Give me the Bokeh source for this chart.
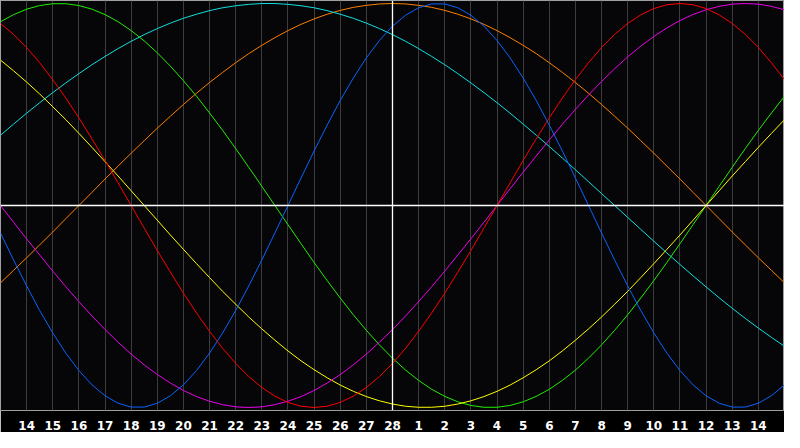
from bokeh.plotting import figure
from bokeh.models import Range1d, FixedTicker, Span
from bokeh.embed import file_html
from bokeh.resources import INLINE

# Day axis: position 0 = day 13 of previous month ... position 30 = day 15
day_labels = ["13", "14", "15", "16", "17", "18", "19", "20", "21", "22", "23",
              "24", "25", "26", "27", "28", "1", "2", "3", "4", "5", "6", "7",
              "8", "9", "10", "11", "12", "13", "14", "15"]
# sample positions, every half day
day_pos = [k / 2 for k in range(61)]

# Cycle values (-1 .. 1) at half-day steps
physical = [-0.136, -0.270, -0.398, -0.520, -0.631, -0.731, -0.817, -0.888, -0.942,
            -0.979, -0.998, -0.998, -0.979, -0.942, -0.888, -0.817, -0.731, -0.631,
            -0.520, -0.398, -0.270, -0.136, 0.0, 0.136, 0.270, 0.398, 0.520, 0.631,
            0.731, 0.817, 0.888, 0.942, 0.979, 0.998, 0.998, 0.979, 0.942, 0.888,
            0.817, 0.731, 0.631, 0.520, 0.398, 0.270, 0.136, 0.0, -0.136, -0.270,
            -0.398, -0.520, -0.631, -0.731, -0.817, -0.888, -0.942, -0.979, -0.998,
            -0.998, -0.979, -0.942, -0.888]
emotional = [0.901, 0.847, 0.782, 0.707, 0.623, 0.532, 0.434, 0.330, 0.223, 0.112,
             0.0, -0.112, -0.223, -0.330, -0.434, -0.532, -0.623, -0.707, -0.782,
             -0.847, -0.901, -0.944, -0.975, -0.994, -1.0, -0.994, -0.975, -0.944,
             -0.901, -0.847, -0.782, -0.707, -0.623, -0.532, -0.434, -0.330, -0.223,
             -0.112, 0.0, 0.112, 0.223, 0.330, 0.434, 0.532, 0.623, 0.707, 0.782,
             0.847, 0.901, 0.944, 0.975, 0.994, 1.0, 0.994, 0.975, 0.944, 0.901,
             0.847, 0.782, 0.707, 0.623]
intellectual = [0.910, 0.945, 0.972, 0.990, 0.999, 0.999, 0.990, 0.972, 0.945, 0.910,
                0.866, 0.815, 0.756, 0.690, 0.618, 0.541, 0.458, 0.372, 0.282, 0.189,
                0.095, 0.0, -0.095, -0.189, -0.282, -0.372, -0.458, -0.541, -0.618,
                -0.690, -0.756, -0.815, -0.866, -0.910, -0.945, -0.972, -0.990,
                -0.999, -0.999, -0.990, -0.972, -0.945, -0.910, -0.866, -0.815,
                -0.756, -0.690, -0.618, -0.541, -0.458, -0.372, -0.282, -0.189,
                -0.095, 0.0, 0.095, 0.189, 0.282, 0.372, 0.458, 0.541]
intuitive = [0.0, -0.083, -0.165, -0.245, -0.325, -0.402, -0.476, -0.547, -0.614,
             -0.677, -0.736, -0.789, -0.837, -0.879, -0.916, -0.946, -0.969, -0.986,
             -0.997, -1.0, -0.997, -0.986, -0.969, -0.946, -0.916, -0.879, -0.837,
             -0.789, -0.736, -0.677, -0.614, -0.547, -0.476, -0.402, -0.325, -0.245,
             -0.165, -0.083, 0.0, 0.083, 0.165, 0.245, 0.325, 0.402, 0.476, 0.547,
             0.614, 0.677, 0.736, 0.789, 0.837, 0.879, 0.916, 0.946, 0.969, 0.986,
             0.997, 1.0, 0.997, 0.986, 0.969]
aesthetic = [0.720, 0.667, 0.611, 0.552, 0.489, 0.425, 0.357, 0.288, 0.217, 0.146,
             0.073, 0.0, -0.073, -0.146, -0.217, -0.288, -0.357, -0.425, -0.489,
             -0.552, -0.611, -0.667, -0.720, -0.769, -0.813, -0.853, -0.889, -0.920,
             -0.946, -0.967, -0.983, -0.994, -0.999, -0.999, -0.994, -0.983, -0.967,
             -0.946, -0.920, -0.889, -0.853, -0.813, -0.769, -0.720, -0.667, -0.611,
             -0.552, -0.489, -0.425, -0.357, -0.288, -0.217, -0.146, -0.073, 0.0,
             0.073, 0.146, 0.217, 0.288, 0.357, 0.425]
awareness = [-0.383, -0.321, -0.259, -0.195, -0.131, -0.065, 0.0, 0.065, 0.131, 0.195,
             0.259, 0.321, 0.383, 0.442, 0.5, 0.556, 0.609, 0.659, 0.707, 0.752,
             0.793, 0.831, 0.866, 0.897, 0.924, 0.947, 0.966, 0.981, 0.991, 0.998,
             1.0, 0.998, 0.991, 0.981, 0.966, 0.947, 0.924, 0.897, 0.866, 0.831,
             0.793, 0.752, 0.707, 0.659, 0.609, 0.556, 0.5, 0.442, 0.383, 0.321,
             0.259, 0.195, 0.131, 0.065, 0.0, -0.065, -0.131, -0.195, -0.259,
             -0.321, -0.383]
spiritual = [0.348, 0.403, 0.457, 0.509, 0.559, 0.607, 0.653, 0.697, 0.738, 0.777,
             0.813, 0.846, 0.876, 0.903, 0.927, 0.947, 0.965, 0.979, 0.989, 0.996,
             1.0, 1.0, 0.996, 0.989, 0.979, 0.965, 0.947, 0.927, 0.903, 0.876,
             0.846, 0.813, 0.777, 0.738, 0.697, 0.653, 0.607, 0.559, 0.509, 0.457,
             0.403, 0.348, 0.292, 0.235, 0.177, 0.118, 0.059, 0.0, -0.059, -0.118,
             -0.177, -0.235, -0.292, -0.348, -0.403, -0.457, -0.509, -0.559, -0.607,
             -0.653, -0.697]

series = [
    (awareness, "#ff8000"),
    (spiritual, "#10e0e0"),
    (intellectual, "#20ee00"),
    (aesthetic, "#ffff00"),
    (intuitive, "#ee00ee"),
    (emotional, "#ff0000"),
    (physical, "#0a64ff"),
]

p = figure(width=784, height=432, output_backend="svg", toolbar_location=None,
           x_range=Range1d(0, 30), y_range=Range1d(-1.015, 1.015),
           x_axis_location="below", y_axis_location=None,
           min_border=0, min_border_bottom=21)

p.background_fill_color = "#060608"
p.border_fill_color = "#000000"
p.outline_line_color = "#a0a0a0"
p.outline_line_width = 1

ticks = list(range(1, 30))
p.xaxis.ticker = FixedTicker(ticks=ticks)
p.xaxis.major_label_overrides = {i: day_labels[i] for i in ticks}
p.xaxis.axis_line_color = None
p.xaxis.major_tick_line_color = None
p.xaxis.minor_tick_line_color = None
p.xaxis.major_label_text_color = "#ffffff"
p.xaxis.major_label_text_font = "DejaVu Sans"
p.xaxis.major_label_text_font_style = "bold"
p.xaxis.major_label_text_font_size = "12px"
p.xaxis.major_label_standoff = 4

p.xgrid.ticker = FixedTicker(ticks=ticks)
p.xgrid.grid_line_color = "#3c3c3c"
p.xgrid.grid_line_width = 1
p.ygrid.visible = False

p.add_layout(Span(location=0, dimension="width", line_color="#ffffff", line_width=1.3))
p.add_layout(Span(location=15, dimension="height", line_color="#ffffff", line_width=1.3))

for vals, col in series:
    p.line(day_pos, vals, line_color=col, line_width=1)

open("out.html", "w").write(file_html(p, INLINE))
